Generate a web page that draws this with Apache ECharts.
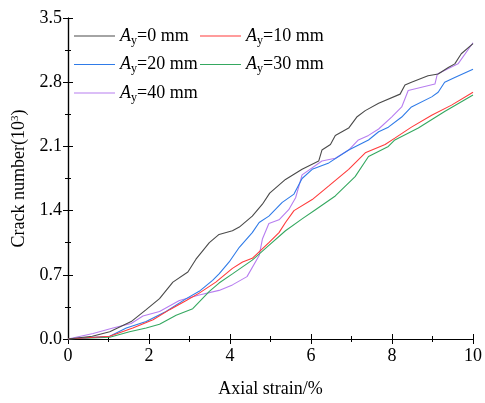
<!DOCTYPE html>
<html><head><meta charset="utf-8">
<script src="https://cdn.jsdelivr.net/npm/echarts@6/dist/echarts.min.js"></script>
<style>html,body{margin:0;padding:0;background:#fff}#c{width:485px;height:403px}</style>
</head><body><div id="c"></div>
<script>
const seriesNames = ['Ay=0 mm','Ay=10 mm','Ay=20 mm','Ay=30 mm','Ay=40 mm'];
const xTicks = [0,2,4,6,8,10];
const yTicks = [0.0,0.7,1.4,2.1,2.8,3.5];
const ay0 = [[0,0],[0.6,0.03],[1.03,0.08],[1.56,0.19],[1.93,0.32],[2.26,0.44],[2.59,0.62],[2.96,0.73],[3.16,0.87],[3.49,1.05],[3.73,1.14],[4.06,1.18],[4.23,1.22],[4.55,1.34],[4.80,1.47],[4.98,1.59],[5.37,1.74],[5.78,1.85],[6.19,1.94],[6.27,2.06],[6.48,2.12],[6.60,2.22],[6.93,2.30],[7.13,2.42],[7.34,2.49],[7.67,2.57],[8.20,2.67],[8.32,2.77],[8.48,2.80],[8.89,2.87],[9.14,2.89],[9.39,2.96],[9.55,3.00],[9.71,3.11],[10,3.22]];
const ay10 = [[0,0],[1.03,0.03],[1.60,0.12],[2.10,0.21],[2.51,0.32],[2.92,0.42],[3.24,0.50],[3.65,0.62],[4.06,0.77],[4.31,0.84],[4.55,0.88],[4.96,1.05],[5.21,1.16],[5.37,1.27],[5.58,1.40],[6.03,1.52],[6.44,1.67],[6.93,1.85],[7.34,2.03],[7.83,2.12],[8.07,2.19],[8.48,2.31],[8.98,2.44],[9.47,2.55],[10,2.69]];
const ay20 = [[0,0],[1.03,0.03],[1.44,0.12],[1.93,0.19],[2.42,0.30],[2.92,0.44],[3.24,0.52],[3.57,0.64],[3.73,0.71],[3.98,0.84],[4.23,1.00],[4.55,1.16],[4.72,1.27],[4.96,1.34],[5.29,1.49],[5.58,1.58],[5.78,1.75],[6.03,1.85],[6.44,1.92],[6.93,2.06],[7.42,2.17],[7.67,2.26],[7.91,2.31],[8.24,2.42],[8.48,2.53],[8.98,2.64],[9.14,2.69],[9.30,2.80],[9.55,2.85],[10,2.94]];
const ay30 = [[0,0],[1.03,0.02],[1.52,0.08],[1.93,0.12],[2.26,0.16],[2.67,0.26],[3.08,0.33],[3.49,0.52],[3.73,0.61],[4.06,0.71],[4.55,0.86],[4.96,1.02],[5.37,1.18],[5.78,1.31],[6.11,1.41],[6.60,1.56],[7.09,1.77],[7.42,1.99],[7.91,2.10],[8.07,2.17],[8.65,2.30],[9.30,2.48],[10,2.66]];
const ay40 = [[0,0],[0.62,0.06],[1.11,0.12],[1.56,0.17],[1.85,0.25],[2.26,0.30],[2.75,0.42],[3.24,0.48],[3.73,0.53],[4.06,0.59],[4.42,0.68],[4.72,0.91],[4.80,1.09],[4.96,1.26],[5.21,1.30],[5.45,1.41],[5.62,1.54],[5.78,1.79],[6.27,1.94],[6.60,1.97],[6.93,2.06],[7.17,2.17],[7.42,2.22],[7.67,2.29],[7.99,2.42],[8.24,2.53],[8.40,2.71],[9.06,2.78],[9.12,2.89],[9.63,3.00],[10,3.23]];
const allData = [ay0, ay10, ay20, ay30, ay40];
const colors = ['#4a4a4a','#ff3b3b','#2f7be8','#35a860','#b77ef0'];

const font = 'Liberation Serif';
const chart = echarts.init(document.getElementById('c'));
const legendRich = {
  i:{fontFamily:font,fontSize:18,fontStyle:'italic',color:'#000'},
  s:{fontFamily:font,fontSize:12,color:'#000',verticalAlign:'bottom',padding:[9,0,0,0]},
  t:{fontFamily:font,fontSize:18,color:'#000'}
};
function legendFmt(n){ const rest = n.slice(2); return '{i|A}{s|y}{t|' + rest + '}'; }
function mkLegend(names, left){
  return {data:names, left:left, top:27, orient:'vertical', itemGap:9, itemWidth:41, itemHeight:18,
    icon:'path://M0,8 L41,8 L41,9.2 L0,9.2 Z',
    textStyle:{rich:legendRich, fontFamily:font}, formatter:legendFmt, padding:0};
}
const axisCommon = {
  axisLine:{show:true,lineStyle:{color:'#000',width:1.2}},
  axisTick:{show:true,inside:true,length:5,lineStyle:{color:'#000'}},
  minorTick:{show:true,splitNumber:2,length:3,lineStyle:{color:'#000'}},
  splitLine:{show:false}
};
chart.setOption({
  animation:false,
  color:colors,
  grid:{left:68,right:10,top:18,bottom:62},
  legend:[mkLegend([seriesNames[0],seriesNames[2],seriesNames[4]],74), mkLegend([seriesNames[1],seriesNames[3]],200)],
  xAxis:[
    Object.assign({type:'value',min:xTicks[0],max:xTicks[xTicks.length-1],interval:2,
      name:'Axial strain/%',nameLocation:'middle',nameGap:41,
      nameTextStyle:{fontFamily:font,fontSize:18,color:'#000'},
      axisLabel:{fontFamily:font,fontSize:18,color:'#000',margin:8}},axisCommon),
    Object.assign({type:'value',position:'top',min:0,max:10,interval:2,axisLabel:{show:false}},axisCommon)
  ],
  yAxis:[
    Object.assign({type:'value',min:yTicks[0],max:yTicks[yTicks.length-1],interval:0.7,
      name:'Crack number(10{sup|3})',nameLocation:'middle',nameGap:37,
      nameTextStyle:{fontFamily:font,fontSize:18,color:'#000',rich:{sup:{fontFamily:font,fontSize:11,verticalAlign:'top',padding:[0,0,9,0],color:'#000'}}},
      axisLabel:{fontFamily:font,fontSize:18,color:'#000',margin:6,formatter:v=>v.toFixed(1)}},axisCommon),
    Object.assign({type:'value',position:'right',min:0,max:3.5,interval:0.7,axisLabel:{show:false}},axisCommon)
  ],
  series: allData.map((d,i)=>({name:seriesNames[i],type:'line',data:d,symbol:'none',
    lineStyle:{width:1.1,color:colors[i]},itemStyle:{color:colors[i]},z:10-i}))
});
</script></body></html>
